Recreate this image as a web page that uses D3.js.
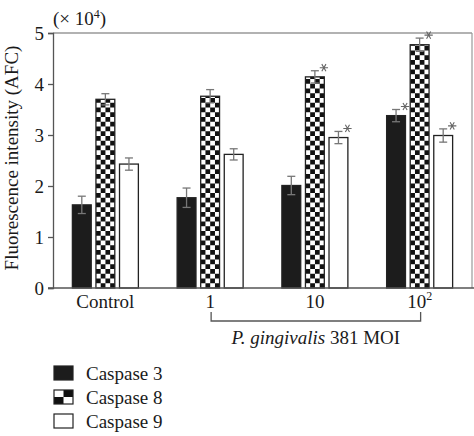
<!DOCTYPE html>
<html><head><meta charset="utf-8">
<script src="https://cdn.jsdelivr.net/npm/d3@7"></script>
<style>
html,body{margin:0;padding:0;background:#fff;}
svg text{font-family:"Liberation Serif","Times New Roman",serif;fill:#1a1a1a;}
</style></head>
<body><svg id="c" width="474" height="436"></svg>
<script>
const groups = ["Control", "1", "10", "100"];
const series = ["Caspase 3", "Caspase 8", "Caspase 9"];
const caspase3 = [1.63, 1.77, 2.01, 3.38];
const caspase8 = [3.70, 3.76, 4.14, 4.77];
const caspase9 = [2.43, 2.62, 2.95, 2.99];
const err3 = [0.17, 0.19, 0.18, 0.12];
const err8 = [0.11, 0.13, 0.12, 0.13];
const err9 = [0.12, 0.11, 0.12, 0.13];
const sig3 = [false, false, false, true];
const sig8 = [false, false, true, true];
const sig9 = [false, false, true, true];
const yTicks = [0, 1, 2, 3, 4, 5];

const values = [caspase3, caspase8, caspase9];
const errs = [err3, err8, err9];
const sigs = [sig3, sig8, sig9];

const svg = d3.select("#c");
const pLeft = 53, pRight = 472, pTop = 33, pBottom = 288;
const x = d3.scaleBand().domain(groups).range([pLeft, pRight]).padding(0);
const xs = d3.scaleBand().domain(series).range([-33, 33]).paddingInner(0.2);
const y = d3.scaleLinear().domain([0, 5]).range([pBottom, pTop]);

const data = [];
groups.forEach((g, gi) => series.forEach((s, si) => {
  data.push({g, s, si, gi, v: values[si][gi], e: errs[si][gi], sig: sigs[si][gi]});
}));
const barX = d => x(d.g) + x.bandwidth() / 2 + xs(d.s);

// checker patterns per bar
const defs = svg.append("defs");
const cell = 4.75;
data.filter(d => d.si === 1).forEach(d => {
  const p = defs.append("pattern").attr("id", "chk" + d.gi)
    .attr("patternUnits", "userSpaceOnUse")
    .attr("x", barX(d)).attr("y", pBottom)
    .attr("width", cell * 2).attr("height", cell * 2);
  p.append("rect").attr("width", cell * 2).attr("height", cell * 2).attr("fill", "#fff");
  p.append("rect").attr("x", 0).attr("y", 0).attr("width", cell).attr("height", cell).attr("fill", "#111");
  p.append("rect").attr("x", cell).attr("y", cell).attr("width", cell).attr("height", cell).attr("fill", "#111");
});
const lp = defs.append("pattern").attr("id", "chkLeg").attr("patternUnits", "userSpaceOnUse")
  .attr("x", 54).attr("y", 390).attr("width", 19).attr("height", 14);
lp.append("rect").attr("width", 19).attr("height", 14).attr("fill", "#fff");
lp.append("rect").attr("x", 9.5).attr("y", 0).attr("width", 9.5).attr("height", 7).attr("fill", "#111");
lp.append("rect").attr("x", 0).attr("y", 7).attr("width", 9.5).attr("height", 7).attr("fill", "#111");

// frame lines (top and right)
svg.append("line").attr("x1", pLeft).attr("x2", pRight).attr("y1", pTop).attr("y2", pTop)
  .attr("stroke", "#666").attr("stroke-width", 1.2);
svg.append("line").attr("x1", pRight).attr("x2", pRight).attr("y1", pTop).attr("y2", pBottom)
  .attr("stroke", "#999").attr("stroke-width", 1.2);

const fillFor = d => d.si === 0 ? "#1c1c1c" : d.si === 1 ? `url(#chk${d.gi})` : "#fff";

// bars
svg.append("g").selectAll("rect").data(data).join("rect")
  .attr("x", barX)
  .attr("width", xs.bandwidth())
  .attr("y", d => y(d.v))
  .attr("height", d => y(0) - y(d.v))
  .attr("fill", fillFor)
  .attr("stroke", "#222").attr("stroke-width", 1.3);

// error bars
const eb = svg.append("g").attr("stroke", "#777").attr("stroke-width", 1.3);
data.forEach(d => {
  const cx = barX(d) + xs.bandwidth() / 2;
  eb.append("line").attr("x1", cx).attr("x2", cx).attr("y1", y(d.v + d.e)).attr("y2", y(d.v - d.e));
  eb.append("line").attr("x1", cx - 4).attr("x2", cx + 4).attr("y1", y(d.v + d.e)).attr("y2", y(d.v + d.e));
  eb.append("line").attr("x1", cx - 4).attr("x2", cx + 4).attr("y1", y(d.v - d.e)).attr("y2", y(d.v - d.e));
});

// asterisks
const star = d3.symbol().type(d3.symbolAsterisk).size(48);
svg.append("g").selectAll("path").data(data.filter(d => d.sig)).join("path")
  .attr("transform", d => `translate(${barX(d) + xs.bandwidth() / 2 + 9},${y(d.v + d.e) - 3}) rotate(90)`)
  .attr("d", star)
  .attr("fill", "none").attr("stroke", "#666").attr("stroke-width", 1.1);

// y axis
const yAxis = svg.append("g").attr("transform", `translate(${pLeft},0)`)
  .call(d3.axisLeft(y).tickValues(yTicks).tickSize(5).tickFormat(d3.format("d")));
yAxis.select(".domain").attr("stroke", "#555").attr("stroke-width", 1.3);
yAxis.selectAll(".tick line").attr("stroke", "#555").attr("stroke-width", 1.3);
yAxis.selectAll(".tick text").attr("font-size", 19).attr("x", -9).attr("dy", "0.35em")
  .style("font-family", "Liberation Serif, serif").style("fill", "#1a1a1a");

// baseline
svg.append("line").attr("x1", pLeft - 5).attr("x2", pRight + 2).attr("y1", pBottom).attr("y2", pBottom)
  .attr("stroke", "#555").attr("stroke-width", 1.3);

// x labels
const xl = svg.append("g");
groups.forEach(g => {
  const t = xl.append("text").attr("x", x(g) + x.bandwidth() / 2).attr("y", 308)
    .attr("text-anchor", "middle").attr("font-size", 19);
  if (g === "100") {
    t.append("tspan").text("10");
    t.append("tspan").attr("dy", -8).attr("font-size", 12).text("2");
  } else t.text(g);
});

// bracket
const bx1 = x("1") + x.bandwidth() / 2 + 1, bx2 = x("100") + x.bandwidth() / 2 + 1;
svg.append("path")
  .attr("d", `M${bx1},312V321H${bx2}V312`)
  .attr("fill", "none").attr("stroke", "#555").attr("stroke-width", 1.3);
const mt = svg.append("text").attr("x", (bx1 + bx2) / 2).attr("y", 344)
  .attr("text-anchor", "middle").attr("font-size", 19);
mt.append("tspan").attr("font-style", "italic").text("P. gingivalis");
mt.append("tspan").text(" 381 MOI");

// y label
svg.append("text").attr("transform", "translate(18,158) rotate(-90)")
  .attr("text-anchor", "middle").attr("font-size", 19).text("Fluorescence intensity (AFC)");

// multiplier
const mult = svg.append("text").attr("x", 53).attr("y", 25).attr("font-size", 19);
mult.append("tspan").text("(× 10");
mult.append("tspan").attr("dy", -7).attr("font-size", 12).text("4");
mult.append("tspan").attr("dy", 7).text(")");

// legend
const leg = svg.append("g");
series.forEach((s, i) => {
  const ly = 366 + i * 24;
  leg.append("rect").attr("x", 54).attr("y", ly).attr("width", 19).attr("height", 14)
    .attr("fill", i === 0 ? "#1c1c1c" : i === 1 ? "url(#chkLeg)" : "#fff")
    .attr("stroke", "#222").attr("stroke-width", 1.2);
  leg.append("text").attr("x", 86).attr("y", ly + 14).attr("font-size", 19).text(s);
});
</script></body></html>
